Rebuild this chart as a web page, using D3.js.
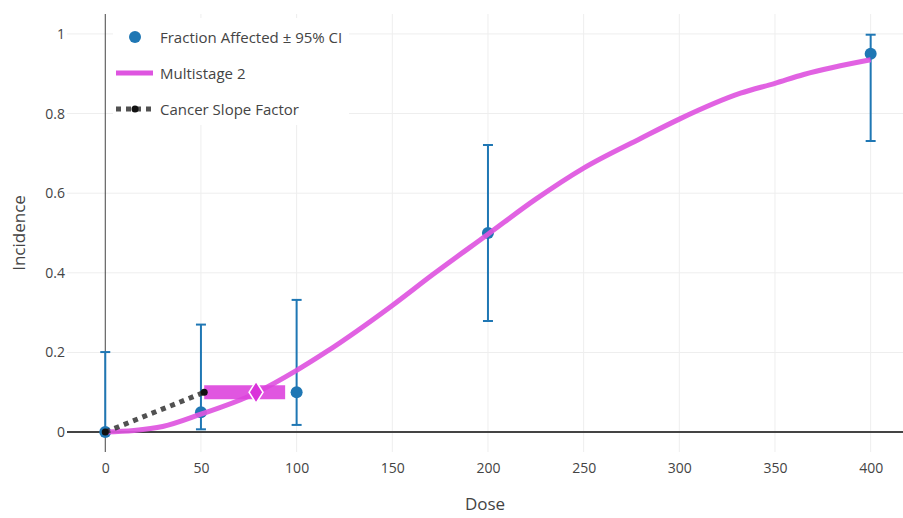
<!DOCTYPE html>
<html>
<head>
<meta charset="utf-8">
<script src="https://cdn.jsdelivr.net/npm/d3@7"></script>
<style>
  html, body { margin: 0; padding: 0; background: #fff; }
  svg { display: block; font-family: "Open Sans", sans-serif; }
</style>
</head>
<body>
<div id="vis"></div>
<script>
// observed dose groups
var doses = [0, 50, 100, 200, 400];
var incidence = [0, 0.05, 0.1, 0.5, 0.95];
var ciLower = [0, 0.007, 0.018, 0.279, 0.731];
var ciUpper = [0.201, 0.27, 0.332, 0.721, 0.998];

// multistage 2 fitted curve
var curveDose = [0, 15, 30, 50, 75, 100, 115, 150, 171, 200, 225, 250, 280, 300, 332, 350, 365, 400];
var curveInc = [0, 0.004, 0.014, 0.045, 0.09, 0.155, 0.2, 0.318, 0.395, 0.497, 0.585, 0.663, 0.738, 0.786, 0.851, 0.876, 0.898, 0.935];

// benchmark dose + slope factor
var bmr = 0.1;
var bmdl = 51.7, bmd = 78.8, bmdu = 94;

var xTicks = [0, 50, 100, 150, 200, 250, 300, 350, 400];
var yTicks = [0, 0.2, 0.4, 0.6, 0.8, 1];
var legendLabels = ['Fraction Affected \u00b1 95% CI', 'Multistage 2', 'Cancer Slope Factor'];

var width = 903, height = 518;
var plot = { left: 67, right: 903, top: 14, bottom: 452 };

var blue = '#1f77b4';
var magenta = 'rgb(222, 85, 224)';
var barColor = 'rgb(221, 68, 221)';
var textColor = '#444';

var svg = d3.select('#vis').append('svg')
  .attr('width', width)
  .attr('height', height);

var x = d3.scaleLinear().domain([-20, 416.9]).range([plot.left, plot.right]);
var y = d3.scaleLinear().domain([-0.05, 1.05]).range([plot.bottom, plot.top]);

// grid
var grid = svg.append('g');
grid.selectAll('.vgrid')
  .data(xTicks.filter(function(d) { return d !== 0; }))
  .enter().append('line')
  .attr('x1', function(d) { return x(d); })
  .attr('x2', function(d) { return x(d); })
  .attr('y1', plot.top).attr('y2', plot.bottom)
  .attr('stroke', '#eee').attr('stroke-width', 1);
grid.selectAll('.hgrid')
  .data(yTicks.filter(function(d) { return d !== 0; }))
  .enter().append('line')
  .attr('x1', plot.left).attr('x2', plot.right)
  .attr('y1', function(d) { return y(d); })
  .attr('y2', function(d) { return y(d); })
  .attr('stroke', '#eee').attr('stroke-width', 1);

// zero lines
svg.append('line')
  .attr('x1', x(0)).attr('x2', x(0))
  .attr('y1', plot.top).attr('y2', plot.bottom)
  .attr('stroke', textColor).attr('stroke-width', 1);
svg.append('line')
  .attr('x1', plot.left).attr('x2', plot.right)
  .attr('y1', y(0)).attr('y2', y(0))
  .attr('stroke', textColor).attr('stroke-width', 2);

// axes (labels only, plotly style)
var xAxis = svg.append('g')
  .attr('transform', 'translate(0,' + (plot.bottom + 11) + ')')
  .call(d3.axisBottom(x).tickValues(xTicks).tickSize(0).tickPadding(0));
var yAxis = svg.append('g')
  .attr('transform', 'translate(' + (plot.left - 2) + ',0)')
  .call(d3.axisLeft(y).tickValues(yTicks).tickSize(0).tickPadding(0)
    .tickFormat(function(d) { return d3.format('~g')(d); }));
[xAxis, yAxis].forEach(function(a) {
  a.select('.domain').remove();
  a.selectAll('text')
    .attr('fill', textColor)
    .style('font-family', '"Open Sans", sans-serif')
    .style('font-size', '14px');
});

svg.append('text')
  .attr('x', (plot.left + plot.right) / 2)
  .attr('y', 503)
  .attr('text-anchor', 'middle')
  .attr('dominant-baseline', 'central')
  .attr('fill', textColor)
  .style('font-size', '17px')
  .text('Dose');
svg.append('text')
  .attr('transform', 'translate(18,' + y(0.5) + ') rotate(-90)')
  .attr('text-anchor', 'middle')
  .attr('dominant-baseline', 'central')
  .attr('fill', textColor)
  .style('font-size', '17px')
  .text('Incidence');

// error bars
var eb = svg.append('g');
eb.selectAll('.ebar')
  .data(doses)
  .enter().append('line')
  .attr('x1', function(d) { return x(d); })
  .attr('x2', function(d) { return x(d); })
  .attr('y1', function(d, i) { return y(ciLower[i]); })
  .attr('y2', function(d, i) { return y(ciUpper[i]); })
  .attr('stroke', blue).attr('stroke-width', 2);
[ciLower, ciUpper].forEach(function(arr) {
  eb.selectAll(null)
    .data(doses)
    .enter().append('line')
    .attr('x1', function(d) { return x(d) - 5; })
    .attr('x2', function(d) { return x(d) + 5; })
    .attr('y1', function(d, i) { return y(arr[i]); })
    .attr('y2', function(d, i) { return y(arr[i]); })
    .attr('stroke', blue).attr('stroke-width', 2);
});

// observed points
svg.append('g').selectAll('circle')
  .data(doses)
  .enter().append('circle')
  .attr('cx', function(d) { return x(d); })
  .attr('cy', function(d, i) { return y(incidence[i]); })
  .attr('r', 6)
  .attr('fill', blue);

// model curve
var line = d3.line()
  .x(function(d) { return x(d); })
  .y(function(d, i) { return y(curveInc[i]); })
  .curve(d3.curveMonotoneX);
svg.append('path')
  .datum(curveDose)
  .attr('d', line)
  .attr('fill', 'none')
  .attr('stroke', magenta)
  .attr('stroke-width', 5)
  .attr('stroke-opacity', 0.92);

// BMD range bar + diamond
svg.append('line')
  .attr('x1', x(bmdl)).attr('x2', x(bmdu))
  .attr('y1', y(bmr)).attr('y2', y(bmr))
  .attr('stroke', barColor)
  .attr('stroke-width', 14)
  .attr('stroke-opacity', 0.9);
var dx = x(bmd), dy = y(bmr);
svg.append('path')
  .attr('d', 'M' + dx + ',' + (dy - 11) + 'L' + (dx + 7) + ',' + dy +
    'L' + dx + ',' + (dy + 11) + 'L' + (dx - 7) + ',' + dy + 'Z')
  .attr('fill', 'rgb(218, 50, 218)')
  .attr('stroke', '#fff')
  .attr('stroke-width', 1.5);

// cancer slope factor
svg.append('line')
  .attr('x1', x(0)).attr('y1', y(0))
  .attr('x2', x(bmdl)).attr('y2', y(bmr))
  .attr('stroke', '#333')
  .attr('stroke-opacity', 0.85)
  .attr('stroke-width', 5)
  .attr('stroke-dasharray', '5,5');
svg.append('g').selectAll('circle')
  .data([[0, 0], [bmdl, bmr]])
  .enter().append('circle')
  .attr('cx', function(d) { return x(d[0]); })
  .attr('cy', function(d) { return y(d[1]); })
  .attr('r', 3.5)
  .attr('fill', '#111');

// legend
var lg = svg.append('g');
lg.append('rect')
  .attr('x', 113).attr('y', 18)
  .attr('width', 236).attr('height', 107)
  .attr('fill', '#fff');
var items = lg.selectAll('.item')
  .data(legendLabels)
  .enter().append('g')
  .attr('transform', function(d, i) { return 'translate(0,' + (37 + i * 36) + ')'; });
items.append('text')
  .attr('x', 160)
  .attr('dominant-baseline', 'central')
  .attr('fill', textColor)
  .style('font-size', '15px')
  .text(function(d) { return d; });
lg.append('circle')
  .attr('cx', 135).attr('cy', 37).attr('r', 6).attr('fill', blue);
lg.append('line')
  .attr('x1', 116).attr('x2', 153).attr('y1', 73).attr('y2', 73)
  .attr('stroke', magenta).attr('stroke-width', 5);
lg.append('line')
  .attr('x1', 116).attr('x2', 154).attr('y1', 109).attr('y2', 109)
  .attr('stroke', '#333').attr('stroke-opacity', 0.85)
  .attr('stroke-width', 5).attr('stroke-dasharray', '5,5');
lg.append('circle')
  .attr('cx', 135).attr('cy', 109).attr('r', 3.5).attr('fill', '#111');
</script>
</body>
</html>
